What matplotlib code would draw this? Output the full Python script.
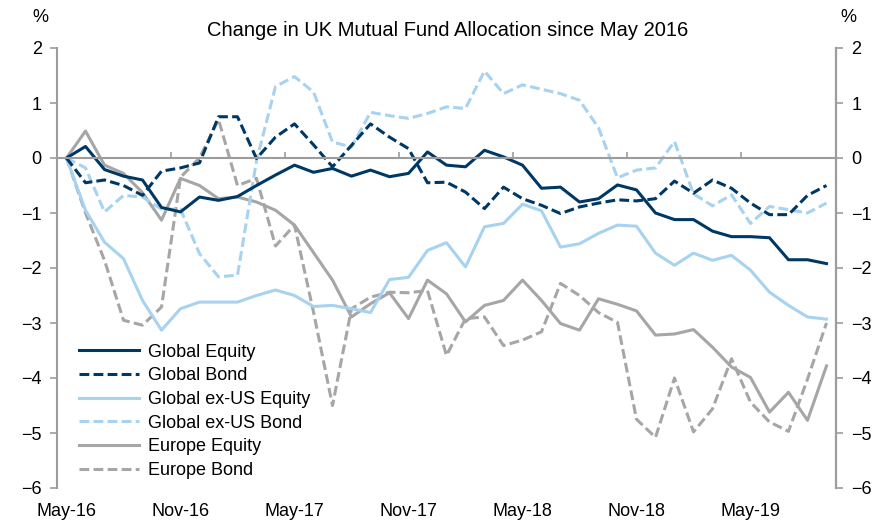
import numpy as np
import matplotlib

matplotlib.use("Agg")
import matplotlib.pyplot as plt

months = ["May-16", "Nov-16", "May-17", "Nov-17", "May-18", "Nov-18", "May-19"]
n_months = 41

global_equity = [
    0.00, 0.21, -0.21, -0.33, -0.40, -0.90, -0.98, -0.71, -0.77, -0.70,
    -0.50, -0.31, -0.13, -0.26, -0.19, -0.33, -0.22, -0.34, -0.28, 0.11,
    -0.13, -0.16, 0.14, 0.02, -0.13, -0.55, -0.53, -0.80, -0.74, -0.49,
    -0.58, -1.00, -1.12, -1.12, -1.33, -1.43, -1.43, -1.45, -1.85, -1.85,
    -1.92,
]
global_bond = [
    0.00, -0.45, -0.40, -0.50, -0.68, -0.24, -0.18, -0.09, 0.75, 0.75,
    -0.01, 0.38, 0.62, 0.24, -0.16, 0.23, 0.62, 0.38, 0.17, -0.45,
    -0.44, -0.62, -0.92, -0.53, -0.74, -0.86, -1.01, -0.89, -0.82, -0.76,
    -0.78, -0.74, -0.42, -0.64, -0.40, -0.55, -0.82, -1.03, -1.03, -0.68,
    -0.50,
]
exus_equity = [
    0.00, -0.95, -1.53, -1.83, -2.59, -3.13, -2.74, -2.62, -2.62, -2.62,
    -2.50, -2.40, -2.50, -2.70, -2.68, -2.74, -2.81, -2.21, -2.17, -1.68,
    -1.54, -1.98, -1.25, -1.19, -0.84, -0.96, -1.62, -1.56, -1.37, -1.22,
    -1.24, -1.73, -1.95, -1.73, -1.86, -1.77, -2.04, -2.44, -2.68, -2.89,
    -2.93,
]
exus_bond = [
    0.00, -0.18, -0.98, -0.68, -0.71, -0.93, -0.93, -1.74, -2.16, -2.13,
    -0.05, 1.30, 1.48, 1.20, 0.29, 0.20, 0.83, 0.77, 0.72, 0.81,
    0.93, 0.90, 1.58, 1.17, 1.33, 1.25, 1.17, 1.05, 0.55, -0.36,
    -0.22, -0.18, 0.30, -0.65, -0.87, -0.67, -1.19, -0.88, -0.94, -1.00,
    -0.82,
]
europe_equity = [
    0.00, 0.49, -0.13, -0.28, -0.63, -1.13, -0.37, -0.50, -0.74, -0.71,
    -0.80, -0.95, -1.22, -1.72, -2.22, -2.89, -2.65, -2.45, -2.92, -2.22,
    -2.47, -2.98, -2.68, -2.59, -2.22, -2.59, -3.01, -3.13, -2.56, -2.66,
    -2.78, -3.22, -3.20, -3.12, -3.44, -3.80, -3.99, -4.62, -4.26, -4.77,
    -3.78,
]
europe_bond = [
    0.00, -1.00, -1.86, -2.95, -3.04, -2.71, -0.35, 0.00, 0.70, -0.50,
    -0.37, -1.60, -1.22, -2.80, -4.50, -2.74, -2.53, -2.44, -2.45, -2.41,
    -3.59, -2.92, -2.89, -3.41, -3.31, -3.16, -2.28, -2.50, -2.81, -2.99,
    -4.75, -5.08, -4.00, -4.98, -4.56, -3.65, -4.44, -4.80, -4.97, -4.02,
    -3.00,
]

navy = "#003865"
light = "#A7D2F0"
grey = "#A6A6A6"
axis_grey = "#9C9C9C"

plt.rcParams["font.family"] = ["Liberation Sans", "DejaVu Sans"]

fig = plt.figure(figsize=(8.73, 5.24), dpi=100)
ax = fig.add_axes([57 / 873, 1 - 488 / 524, (836 - 57) / 873, 440 / 524])

x = np.arange(n_months)
dash = (0, (3.2, 1.4))
lw = 2.2

series = [
    ("Europe Bond", europe_bond, grey, dash),
    ("Europe Equity", europe_equity, grey, "-"),
    ("Global ex-US Bond", exus_bond, light, dash),
    ("Global ex-US Equity", exus_equity, light, "-"),
    ("Global Bond", global_bond, navy, dash),
    ("Global Equity", global_equity, navy, "-"),
]
handles = {}
for name, vals, color, ls in series:
    (h,) = ax.plot(x, vals, color=color, linestyle=ls, lw=lw, label=name)
    handles[name] = h

order = ["Global Equity", "Global Bond", "Global ex-US Equity",
         "Global ex-US Bond", "Europe Equity", "Europe Bond"]
ax.legend([handles[k] for k in order], order, loc="lower left",
          bbox_to_anchor=(0.017, 0.0), frameon=False, fontsize=13,
          handlelength=3.3, handletextpad=0.5, labelspacing=0.37,
          borderaxespad=0.1)

ax.set_xlim(-0.5, n_months - 0.5)
ax.set_ylim(-6, 2)
ax.set_yticks(range(-6, 3))

ax.spines["top"].set_visible(False)
ax.spines["bottom"].set_position(("data", 0))
for side in ["left", "right", "bottom"]:
    ax.spines[side].set_color(axis_grey)
    ax.spines[side].set_linewidth(1.5)

ax.set_xticks(np.arange(5.5, n_months, 6))
ax.tick_params(axis="x", direction="in", length=4, width=1.2,
               color=axis_grey, labelbottom=False)
ax.tick_params(axis="y", direction="out", length=5, width=1.2,
               color=axis_grey, labelsize=13, pad=6)

for i, lab in enumerate(months):
    ax.text(i * 6, -0.035, lab, transform=ax.get_xaxis_transform(),
            ha="center", va="top", fontsize=13)

ax2 = ax.twinx()
ax2.set_ylim(-6, 2)
ax2.set_yticks(range(-6, 3))
for side in ["left", "top", "bottom"]:
    ax2.spines[side].set_visible(False)
ax2.spines["right"].set_color(axis_grey)
ax2.spines["right"].set_linewidth(1.5)
ax2.tick_params(axis="y", direction="out", length=5, width=1.2,
                color=axis_grey, labelsize=13, pad=6)

fig.text(40 / 873, 1 - 18 / 524, "%", ha="center", va="center", fontsize=13)
fig.text(848 / 873, 1 - 18 / 524, "%", ha="center", va="center", fontsize=13)
fig.text(448 / 873, 1 - 30 / 524, "Change in UK Mutual Fund Allocation since May 2016",
         ha="center", va="center", fontsize=14.5)

fig.savefig("out.png", dpi=100)
